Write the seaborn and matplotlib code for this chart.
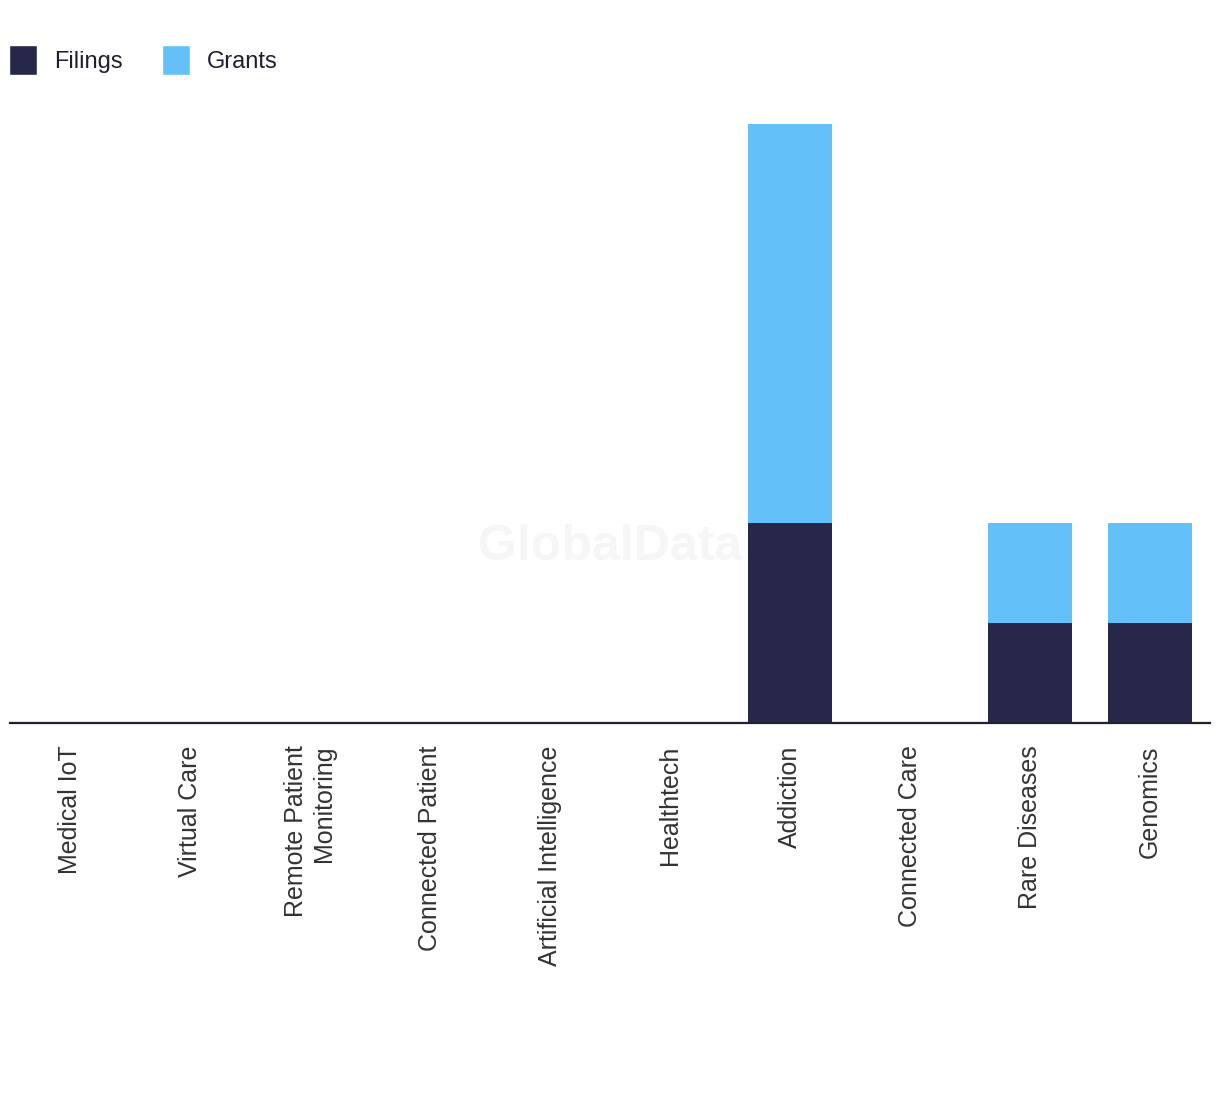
import numpy as np
import pandas as pd
import seaborn as sns
import matplotlib.pyplot as plt
from matplotlib.patches import Patch

categories = ["Medical IoT", "Virtual Care", "Remote Patient\nMonitoring", "Connected Patient",
              "Artificial Intelligence", "Healthtech", "Addiction", "Connected Care",
              "Rare Diseases", "Genomics"]
filings = [0, 0, 0, 0, 0, 0, 2, 0, 1, 1]
grants = [0, 0, 0, 0, 0, 0, 4, 0, 1, 1]

FILING_COLOR = "#272849"
GRANT_COLOR = "#63c0f9"
TEXT_COLOR = "#333333"

df = pd.DataFrame({"category": categories, "filings": filings, "grants": grants})
df["total"] = df["filings"] + df["grants"]

sns.set_style("white")
plt.rcParams["font.family"] = ["Liberation Sans", "DejaVu Sans"]

fig = plt.figure(figsize=(12.2, 10.94), dpi=100)
ax = fig.add_axes([10 / 1220, (1094 - 723) / 1094, 1200 / 1220, (723 - 124) / 1094])

# stacked: draw total in grants colour, filings over it
sns.barplot(data=df, x="category", y="total", color=GRANT_COLOR, width=0.7,
            saturation=1, linewidth=0, edgecolor="none", ax=ax)
sns.barplot(data=df, x="category", y="filings", color=FILING_COLOR, width=0.7,
            saturation=1, linewidth=0, edgecolor="none", ax=ax)

ax.set_ylim(0, 6)
ax.set_xlim(-0.5, len(categories) - 0.5)
ax.set_yticks([])
ax.set_xlabel("")
ax.set_ylabel("")
for side in ["top", "right", "left"]:
    ax.spines[side].set_visible(False)
ax.spines["bottom"].set_color("#1f1f33")
ax.spines["bottom"].set_linewidth(1.6)

ax.tick_params(axis="x", length=0, pad=16)
ax.set_xticks(range(len(categories)))
ax.set_xticklabels(categories, rotation=90, fontsize=18, color=TEXT_COLOR,
                   va="top", ha="center", multialignment="right")

# faint watermark
fig.text(610 / 1220, 1 - 547 / 1094, "GlobalData", fontsize=36, fontweight="bold",
         color="#f6f6f6", ha="center", va="center", zorder=0)

handles = [Patch(facecolor=FILING_COLOR, label="Filings"),
           Patch(facecolor=GRANT_COLOR, label="Grants")]
fig.legend(handles=handles, loc="upper left", bbox_to_anchor=(2 / 1220, 1 - 38 / 1094),
           ncol=2, frameon=False, fontsize=17, handlelength=1.2, handleheight=1.55,
           handletextpad=0.7, columnspacing=1.65, borderaxespad=0.0, borderpad=0.3,
           labelcolor="#1f1f33")

fig.savefig("out.png", dpi=100)
